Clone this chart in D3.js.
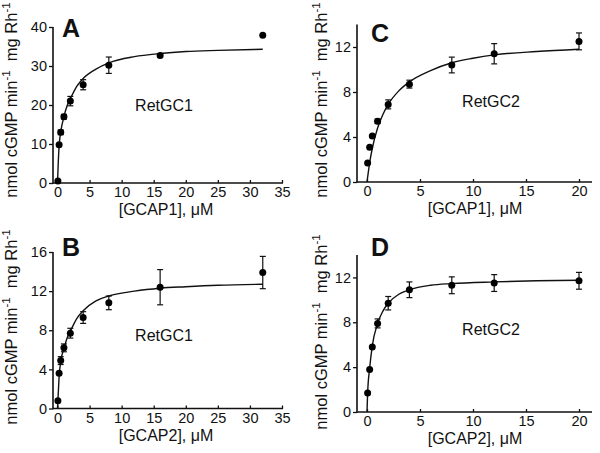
<!DOCTYPE html>
<html><head><meta charset="utf-8">
<script src="https://cdn.jsdelivr.net/npm/d3@7"></script>
<style>body{margin:0;background:#fff} text{font-family:"Liberation Sans",Arial,Helvetica,sans-serif;fill:#111}</style>
</head><body><svg id="c" width="600" height="453"></svg>
<script>
// ---------- data ----------
const panelLetters = ["A", "B", "C", "D"];
const enzymeLabels = ["RetGC1", "RetGC1", "RetGC2", "RetGC2"];
const xTitles = ["[GCAP1], \u03BCM", "[GCAP2], \u03BCM", "[GCAP1], \u03BCM", "[GCAP2], \u03BCM"];
const xTicks35 = [0, 5, 10, 15, 20, 25, 30, 35];
const xTicks20 = [0, 5, 10, 15, 20];
const yTicksA = [0, 10, 20, 30, 40];
const yTicksB = [0, 4, 8, 12, 16];
const yTicksCD = [0, 4, 8, 12];

// Panel A: RetGC1 + GCAP1
const concA = [0.06, 0.25, 0.5, 1, 2, 4, 8, 16, 32];
const rateA = [0.5, 9.8, 13.0, 17.0, 21.0, 25.2, 30.2, 32.7, 37.9];
const errA  = [0, 0, 0.6, 0.6, 1.2, 1.3, 2.1, 0.4, 0];
const fitXA = [0, 0.1, 0.25, 0.5, 1, 1.5, 2, 3, 4, 6, 8, 12, 16, 20, 25, 32];
const fitYA = [0, 4.5, 9.5, 13.0, 17.0, 19.8, 21.6, 24.8, 26.8, 29.2, 30.8, 32.4, 33.2, 33.7, 34.0, 34.3];

// Panel B: RetGC1 + GCAP2
const concB = [0.06, 0.25, 0.5, 1, 2, 4, 8, 16, 32];
const rateB = [0.8, 3.6, 4.9, 6.2, 7.7, 9.3, 10.8, 12.4, 13.9];
const errB  = [0, 0, 0.4, 0.4, 0.5, 0.6, 0.7, 1.8, 1.65];
const fitXB = [0, 0.1, 0.25, 0.5, 1, 1.5, 2, 3, 4, 6, 8, 12, 16, 20, 25, 32];
const fitYB = [0, 1.3, 3.2, 4.8, 6.1, 7.2, 7.9, 9.2, 10.0, 11.0, 11.5, 12.0, 12.3, 12.45, 12.6, 12.7];

// Panel C: RetGC2 + GCAP1
const concC = [0.06, 0.25, 0.5, 1, 2, 4, 8, 12, 20];
const rateC = [1.7, 3.1, 4.1, 5.4, 6.9, 8.7, 10.4, 11.4, 12.5];
const errC  = [0, 0, 0, 0.2, 0.4, 0.35, 0.7, 0.9, 0.75];
const fitXC = [0, 0.25, 0.5, 1, 1.5, 2, 3, 4, 6, 8, 10, 12, 16, 20];
const fitYC = [0, 1.7, 3.0, 4.8, 6.0, 6.9, 8.1, 8.9, 9.9, 10.6, 11.0, 11.3, 11.6, 11.8];

// Panel D: RetGC2 + GCAP2
const concD = [0.06, 0.25, 0.5, 1, 2, 4, 8, 12, 20];
const rateD = [1.7, 3.8, 5.8, 7.9, 9.7, 10.9, 11.3, 11.5, 11.7];
const errD  = [0, 0, 0, 0.4, 0.6, 0.7, 0.75, 0.75, 0.75];
const fitXD = [0, 0.06, 0.25, 0.5, 1, 1.5, 2, 3, 4, 6, 8, 12, 16, 20];
const fitYD = [0, 1.7, 3.9, 5.9, 7.9, 9.0, 9.7, 10.5, 10.9, 11.3, 11.45, 11.6, 11.7, 11.75];

// ---------- layout ----------
const panels = [
  {conc: concA, rate: rateA, err: errA, fx: fitXA, fy: fitYA, xTicks: xTicks35, yTicks: yTicksA,
   xDom: [0, 35], xRange: [57.5, 282], axX0: 53, axX1: 283, yDom: [0, 40], yRange: [183, 27],
   letter: [62, 37], label: [164, 111], ytitle: [17, 100], xtitle: [166, 215]},
  {conc: concB, rate: rateB, err: errB, fx: fitXB, fy: fitYB, xTicks: xTicks35, yTicks: yTicksB,
   xDom: [0, 35], xRange: [57.5, 282], axX0: 53, axX1: 283, yDom: [0, 16], yRange: [408.5, 252],
   letter: [62, 256], label: [164, 341], ytitle: [17, 327], xtitle: [166, 441]},
  {conc: concC, rate: rateC, err: errC, fx: fitXC, fy: fitYC, xTicks: xTicks20, yTicks: yTicksCD,
   xDom: [0, 20], xRange: [367, 579], axX0: 357, axX1: 592, yDom: [0, 14], yRange: [182, 24.5],
   letter: [371, 42], label: [491, 107], ytitle: [327, 100], xtitle: [475, 214]},
  {conc: concD, rate: rateD, err: errD, fx: fitXD, fy: fitYD, xTicks: xTicks20, yTicks: yTicksCD,
   xDom: [0, 20], xRange: [367, 579], axX0: 357, axX1: 592, yDom: [0, 14], yRange: [412, 255],
   letter: [371, 256], label: [491, 335], ytitle: [327, 332], xtitle: [475, 444]}
];

const svg = d3.select("#c");

panels.forEach((p, i) => {
  const x = d3.scaleLinear().domain(p.xDom).range(p.xRange);
  const y = d3.scaleLinear().domain(p.yDom).range(p.yRange);
  const g = svg.append("g");
  const y0 = p.yRange[0];

  // axes lines
  g.append("line").attr("x1", p.axX0).attr("x2", p.axX1).attr("y1", y0).attr("y2", y0)
    .attr("stroke", "#111").attr("stroke-width", 1.6);
  g.append("line").attr("x1", p.axX0).attr("x2", p.axX0).attr("y1", y0 + 0.8).attr("y2", p.yRange[1])
    .attr("stroke", "#111").attr("stroke-width", 1.6);

  // x axis ticks (inward)
  const xa = g.append("g").attr("transform", `translate(0,${y0})`)
    .call(d3.axisBottom(x).tickValues(p.xTicks).tickFormat(d3.format("d")).tickSizeInner(-3).tickSizeOuter(0).tickPadding(4));
  xa.select(".domain").remove();
  xa.selectAll(".tick line").attr("stroke", "#111").attr("stroke-width", 1.3);
  xa.selectAll("text").attr("font-size", 14.5).attr("fill", "#111").attr("font-family", '"Liberation Sans",Arial,sans-serif');

  // y axis ticks (outward)
  const ya = g.append("g").attr("transform", `translate(${p.axX0},0)`)
    .call(d3.axisLeft(y).tickValues(p.yTicks).tickFormat(d3.format("d")).tickSizeInner(4).tickSizeOuter(0).tickPadding(2));
  ya.select(".domain").remove();
  ya.selectAll(".tick line").attr("stroke", "#111").attr("stroke-width", 1.3);
  ya.selectAll("text").attr("font-size", 14.5).attr("fill", "#111").attr("font-family", '"Liberation Sans",Arial,sans-serif');

  // fitted curve
  const fit = p.fx.map((v, k) => [v, p.fy[k]]);
  g.append("path").datum(fit)
    .attr("d", d3.line().x(d => x(d[0])).y(d => y(d[1])).curve(d3.curveMonotoneX))
    .attr("fill", "none").attr("stroke", "#111").attr("stroke-width", 1.4);

  // error bars
  const pts = p.conc.map((c, k) => ({c, r: p.rate[k], e: p.err[k]}));
  const eb = g.append("g").selectAll("g").data(pts.filter(d => d.e > 0)).join("g")
    .attr("stroke", "#111").attr("stroke-width", 1.2);
  eb.append("line").attr("x1", d => x(d.c)).attr("x2", d => x(d.c))
    .attr("y1", d => y(d.r - d.e)).attr("y2", d => y(d.r + d.e));
  eb.append("line").attr("x1", d => x(d.c) - 3).attr("x2", d => x(d.c) + 3)
    .attr("y1", d => y(d.r - d.e)).attr("y2", d => y(d.r - d.e));
  eb.append("line").attr("x1", d => x(d.c) - 3).attr("x2", d => x(d.c) + 3)
    .attr("y1", d => y(d.r + d.e)).attr("y2", d => y(d.r + d.e));

  // points
  g.append("g").selectAll("circle").data(pts).join("circle")
    .attr("cx", d => x(d.c)).attr("cy", d => y(d.r)).attr("r", 3.5).attr("fill", "#000");

  // panel letter
  g.append("text").attr("x", p.letter[0]).attr("y", p.letter[1])
    .attr("font-size", 25).attr("font-weight", "bold").text(panelLetters[i]);

  // enzyme label
  g.append("text").attr("x", p.label[0]).attr("y", p.label[1]).attr("text-anchor", "middle")
    .attr("font-size", 16).text(enzymeLabels[i]);

  // x title
  g.append("text").attr("x", p.xtitle[0]).attr("y", p.xtitle[1]).attr("text-anchor", "middle")
    .attr("font-size", 16).text(xTitles[i]);

  // y title
  const yt = g.append("text").attr("transform", `translate(${p.ytitle[0]},${p.ytitle[1]}) rotate(-90)`)
    .attr("text-anchor", "middle").attr("font-size", 16.5);
  yt.append("tspan").text("nmol cGMP min");
  yt.append("tspan").attr("font-size", 11.5).attr("dy", -7).text("-1");
  yt.append("tspan").attr("dy", 7).text("\u00A0 mg Rh");
  yt.append("tspan").attr("font-size", 11.5).attr("dy", -7).text("-1");
});
</script></body></html>
